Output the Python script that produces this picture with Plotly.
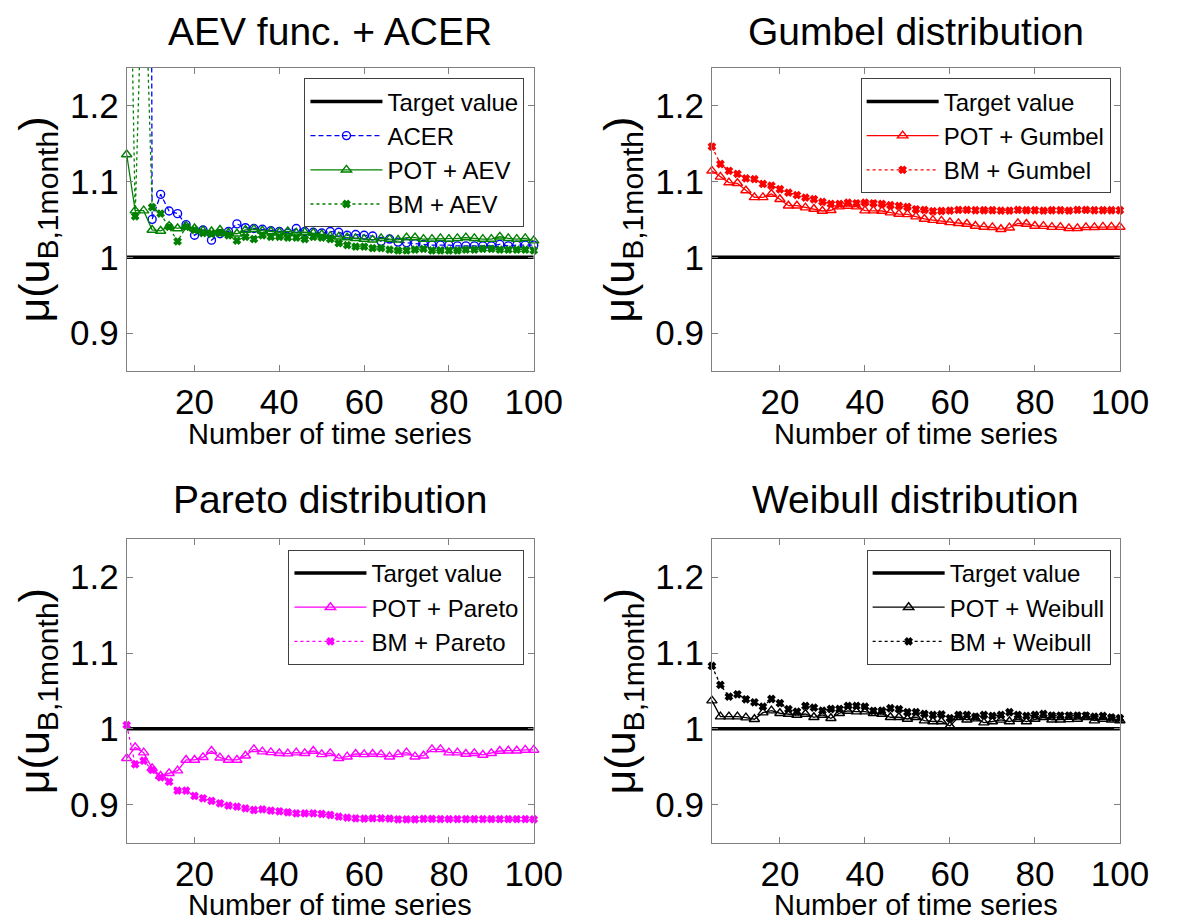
import plotly.graph_objects as go

# ---------------- data ----------------
x_n = [4, 6, 8, 10, 12, 14, 16, 18, 20, 22, 24, 26, 28, 30, 32, 34, 36, 38, 40, 42,
       44, 46, 48, 50, 52, 54, 56, 58, 60, 62, 64, 66, 68, 70, 72, 74, 76, 78, 80, 82,
       84, 86, 88, 90, 92, 94, 96, 98, 100]
target_x = [4, 100]
target_y = [1.0, 1.0]

acer = [6.0, 4.5, 5.0, 1.050, 1.083, 1.061, 1.0575, 1.043, 1.029, 1.036,
        1.0226, 1.031, 1.034, 1.044, 1.039, 1.038, 1.037, 1.035, 1.034, 1.032,
        1.038, 1.034, 1.033, 1.032, 1.034, 1.033, 1.029, 1.030, 1.029, 1.028,
        1.021, 1.024, 1.020, 1.019, 1.018, 1.017, 1.016, 1.016, 1.016, 1.015,
        1.015, 1.015, 1.015, 1.015, 1.017, 1.015, 1.016, 1.016, 1.016]
pot_aev = [1.1355, 1.0615, 1.0615, 1.036, 1.0347, 1.041, 1.038, 1.041, 1.038, 1.035,
           1.034, 1.036, 1.032, 1.031, 1.036, 1.037, 1.035, 1.034, 1.033, 1.034,
           1.032, 1.033, 1.032, 1.030, 1.028, 1.027, 1.026, 1.025, 1.024, 1.023,
           1.025, 1.024, 1.023, 1.026, 1.026, 1.024, 1.024, 1.025, 1.024, 1.025,
           1.026, 1.025, 1.024, 1.024, 1.027, 1.025, 1.024, 1.025, 1.022]
bm_aev = [1.7, 1.054, 1.45, 1.066, 1.0575, 1.040, 1.021, 1.040, 1.036, 1.032,
          1.031, 1.032, 1.029, 1.022, 1.027, 1.024, 1.029, 1.027, 1.027, 1.026,
          1.026, 1.024, 1.027, 1.026, 1.024, 1.0185, 1.016, 1.014, 1.014, 1.012,
          1.012, 1.010, 1.009, 1.009, 1.010, 1.011, 1.009, 1.009, 1.009, 1.009,
          1.010, 1.010, 1.011, 1.011, 1.010, 1.010, 1.010, 1.010, 1.009]

pot_gumbel = [1.114, 1.106, 1.0985, 1.0976, 1.088, 1.079, 1.079, 1.0835, 1.0765, 1.068,
              1.068, 1.0655, 1.0637, 1.061, 1.062, 1.0668, 1.0677, 1.0668, 1.0615, 1.0615,
              1.061, 1.0589, 1.057, 1.0566, 1.0536, 1.0505, 1.049, 1.0479, 1.046, 1.0448,
              1.0439, 1.0413, 1.040, 1.0395, 1.037, 1.039, 1.0448, 1.0439, 1.0413, 1.041,
              1.0398, 1.0398, 1.0382, 1.0382, 1.0395, 1.0395, 1.040, 1.040, 1.040]
bm_gumbel = [1.146, 1.123, 1.114, 1.110, 1.104, 1.103, 1.0967, 1.0945, 1.0897, 1.0853,
             1.082, 1.0787, 1.0765, 1.073, 1.0703, 1.0703, 1.072, 1.0712, 1.072, 1.0712,
             1.0703, 1.0686, 1.0677, 1.0663, 1.0633, 1.0624, 1.0607, 1.061, 1.0615, 1.0624,
             1.0624, 1.062, 1.062, 1.062, 1.0615, 1.0615, 1.0624, 1.062, 1.062, 1.0615,
             1.062, 1.062, 1.0615, 1.0624, 1.0624, 1.062, 1.062, 1.062, 1.062]

pot_pareto = [0.9612, 0.9757, 0.9686, 0.948, 0.9379, 0.9414, 0.9449, 0.959, 0.959, 0.9625,
              0.9708, 0.962, 0.959, 0.959, 0.9646, 0.973, 0.970, 0.969, 0.9678, 0.9673,
              0.9686, 0.9678, 0.9708, 0.9664, 0.9678, 0.9612, 0.9633, 0.9669, 0.9664, 0.9669,
              0.9664, 0.9633, 0.9664, 0.9686, 0.9633, 0.9646, 0.973, 0.973, 0.9686, 0.9686,
              0.9669, 0.9678, 0.9656, 0.9678, 0.9708, 0.9712, 0.9712, 0.9722, 0.9722]
bm_pareto = [1.005, 0.9533, 0.958, 0.9458, 0.936, 0.9303, 0.9185, 0.9185, 0.9115, 0.9084,
             0.9049, 0.9018, 0.8987, 0.8974, 0.8952, 0.893, 0.8938, 0.8921, 0.8913, 0.890,
             0.8886, 0.8886, 0.8886, 0.8877, 0.8864, 0.8842, 0.8829, 0.882, 0.8816, 0.882,
             0.882, 0.8816, 0.8807, 0.8807, 0.8807, 0.8812, 0.8812, 0.881, 0.881, 0.881,
             0.881, 0.881, 0.881, 0.881, 0.881, 0.881, 0.881, 0.881, 0.8807]

pot_weibull = [1.0372, 1.0161, 1.0161, 1.0161, 1.0148, 1.0127, 1.0214, 1.024, 1.0206, 1.0196,
               1.0183, 1.0196, 1.0153, 1.0183, 1.014, 1.0206, 1.0236, 1.0227, 1.0227, 1.0206,
               1.0196, 1.0153, 1.0153, 1.013, 1.0153, 1.0108, 1.0097, 1.0097, 1.0038, 1.0153,
               1.012, 1.0135, 1.0082, 1.0097, 1.0118, 1.0097, 1.013, 1.0097, 1.013, 1.0153,
               1.012, 1.012, 1.0125, 1.013, 1.0153, 1.0108, 1.013, 1.012, 1.011]
bm_weibull = [1.083, 1.058, 1.0425, 1.0456, 1.039, 1.035, 1.0293, 1.0394, 1.0338, 1.0259,
              1.0227, 1.0302, 1.028, 1.024, 1.0262, 1.0262, 1.0302, 1.0302, 1.0293, 1.0236,
              1.024, 1.0272, 1.0259, 1.0219, 1.0219, 1.0197, 1.0183, 1.019, 1.014, 1.0183,
              1.0183, 1.016, 1.0183, 1.017, 1.0183, 1.0219, 1.0183, 1.017, 1.0183, 1.0197,
              1.0176, 1.0176, 1.0176, 1.0176, 1.0176, 1.016, 1.017, 1.015, 1.014]

panel_titles = ["AEV func. + ACER", "Gumbel distribution", "Pareto distribution", "Weibull distribution"]
x_ticks = [20, 40, 60, 80, 100]
y_ticks = [0.9, 1.0, 1.1, 1.2]
y_ticklabels = ["0.9", "1", "1.1", "1.2"]
x_title = "Number of time series"
y_title = "\u03bc(u<sub>B,1month</sub>)"

# ---------------- layout helpers ----------------
OFFX, OFFY = 0, 8            # where the figure sits in the window
W, H = 1177 - OFFX, 923 - OFFY
FONT = "Liberation Sans, Arial, Helvetica, sans-serif"
AXC = "#808080"


def fx(px):
    return (px - OFFX) / W


def fy(py):
    return 1 - (py - OFFY) / H


# window-pixel boxes of the four plot areas: left, right, top, bottom
boxes = [(121.7, 539.0, 67.7, 371.0), (721.7, 1140.0, 67.7, 371.0),
         (121.7, 539.0, 539.3, 842.6), (721.7, 1140.0, 539.3, 842.6)]

panel_series = [
    [("ACER", acer, "#0000ff", "5px,3px", "circle-open", 8),
     ("POT + AEV", pot_aev, "#008000", "solid", "triangle-up-open", 9),
     ("BM + AEV", bm_aev, "#008000", "dot", "x", 6)],
    [("POT + Gumbel", pot_gumbel, "#ff0000", "solid", "triangle-up-open", 9),
     ("BM + Gumbel", bm_gumbel, "#ff0000", "dot", "x", 6)],
    [("POT + Pareto", pot_pareto, "#ff00ff", "solid", "triangle-up-open", 9),
     ("BM + Pareto", bm_pareto, "#ff00ff", "dot", "x", 6)],
    [("POT + Weibull", pot_weibull, "#000000", "solid", "triangle-up-open", 9),
     ("BM + Weibull", bm_weibull, "#000000", "dot", "x", 6)],
]

fig = go.Figure()
layout = dict(
    width=W, height=H, margin=dict(l=0, r=0, t=0, b=0),
    paper_bgcolor="white", plot_bgcolor="white",
    font=dict(family=FONT, color="black"),
    annotations=[],
)

for i, (box, series) in enumerate(zip(boxes, panel_series)):
    n = "" if i == 0 else str(i + 1)
    xa, ya = "x" + n, "y" + n
    leg = "legend" + n
    l, r, t, b = box
    layout["xaxis" + n] = dict(
        domain=[fx(l), fx(r)], range=[4, 100], anchor=ya,
        tickvals=x_ticks, ticks="inside", ticklen=6, tickcolor=AXC,
        showline=True, linecolor=AXC, linewidth=1, mirror="ticks",
        showgrid=False, zeroline=False,
        tickfont=dict(size=35, family=FONT, color="black"),
    )
    layout["yaxis" + n] = dict(
        domain=[fy(b), fy(t)], range=[0.85, 1.25], anchor=xa,
        tickvals=y_ticks, ticktext=y_ticklabels, ticks="inside", ticklen=6, tickcolor=AXC,
        showline=True, linecolor=AXC, linewidth=1, mirror="ticks",
        showgrid=False, zeroline=False,
        tickfont=dict(size=35, family=FONT, color="black"),
    )
    layout[leg] = dict(
        x=fx(r - 9.5), y=fy(t + 10.6), xanchor="right", yanchor="top",
        bordercolor="#404040", borderwidth=1, bgcolor="white",
        font=dict(size=24, family=FONT, color="black"),
        itemwidth=72, tracegroupgap=0,
    )
    # target line
    fig.add_trace(go.Scatter(
        x=target_x, y=target_y, mode="lines", name="Target value",
        line=dict(color="black", width=3.5), xaxis=xa, yaxis=ya, legend=leg,
    ))
    for name, yv, col, dash, sym, msz in series:
        fig.add_trace(go.Scatter(
            x=x_n, y=yv, mode="lines+markers", name=name,
            line=dict(color=col, width=1.3, dash=dash),
            marker=dict(symbol=sym, size=msz, color=col, line=dict(color=col, width=1.4)),
            cliponaxis=False, xaxis=xa, yaxis=ya, legend=leg,
        ))
    cx = (l + r) / 2
    top_title_y = 31 if i < 2 else 499
    xt_y = 434 if i < 2 else 905
    yl_x = 30 if i % 2 == 0 else 630
    layout["annotations"] += [
        dict(text=panel_titles[i], x=fx(cx), y=fy(top_title_y), xref="paper", yref="paper",
             xanchor="center", yanchor="middle", showarrow=False, height=36,
             font=dict(size=39, family=FONT, color="black")),
        dict(text=x_title, x=fx(cx), y=fy(xt_y), xref="paper", yref="paper",
             xanchor="center", yanchor="middle", showarrow=False, height=28,
             font=dict(size=29, family=FONT, color="black")),
        dict(text=y_title, x=fx(yl_x), y=fy((t + b) / 2), xref="paper", yref="paper",
             xanchor="center", yanchor="middle", showarrow=False, textangle=-90,
             font=dict(size=43, family=FONT, color="black")),
    ]

fig.update_layout(**layout)
fig.write_html("out.html")
